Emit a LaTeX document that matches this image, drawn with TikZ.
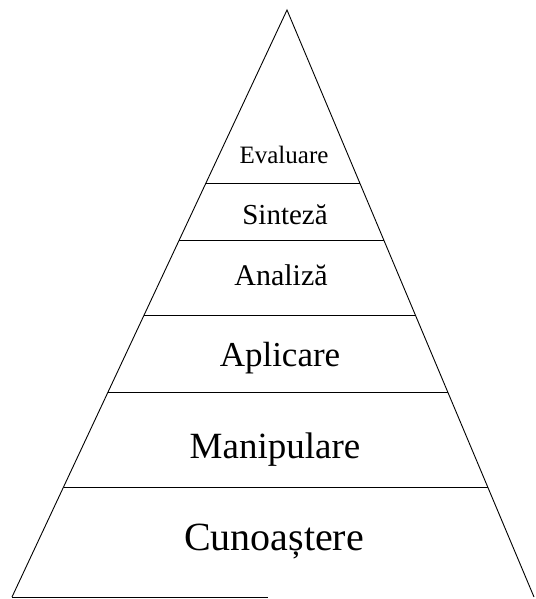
\documentclass[tikz,border=0pt]{standalone}
\usepackage{fontspec}
\setmainfont{Liberation Serif}
\usetikzlibrary{calc}

\tikzset{level/.style={anchor=base,inner sep=0pt}}

\begin{document}
\begin{tikzpicture}[x=1pt,y=-1pt,line width=0.9pt]
        \useasboundingbox (0,0) rectangle (535,599);
        % Corners
        \coordinate (apex) at (287,10);
        \coordinate (bl) at (12,597);
        \coordinate (br) at (534,597);
        % Sides and base
        \draw (bl) -- (apex) -- (br);
        \draw (bl) -- ($(bl)!0.49!(br)$);

        % Level lines
        \draw ($(apex)!0.2947!(bl)$) -- ($(apex)!0.2947!(br)$);
        \draw ($(apex)!0.3918!(bl)$) -- ($(apex)!0.3918!(br)$);
        \draw ($(apex)!0.5196!(bl)$) -- ($(apex)!0.5196!(br)$);
        \draw ($(apex)!0.6508!(bl)$) -- ($(apex)!0.6508!(br)$);
        \draw ($(apex)!0.8126!(bl)$) -- ($(apex)!0.8126!(br)$);

        % Level names
        \node[level,font=\fontsize{25}{25}\selectfont] (eval) at (284,163) {Evaluare};
        \node[level,font=\fontsize{29}{29}\selectfont] (sint) at (285,224) {Sinteză};
        \node[level,font=\fontsize{30}{30}\selectfont] (anal) at (281,285) {Analiză};
        \node[level,font=\fontsize{35}{35}\selectfont] (apli) at (280,366) {Aplicare};
        \node[level,font=\fontsize{37}{37}\selectfont] (mani) at (275,458) {Manipulare};
        \node[level,font=\fontsize{40}{40}\selectfont] (cuno) at (274,550) {Cunoaștere};
      \end{tikzpicture}
\end{document}
